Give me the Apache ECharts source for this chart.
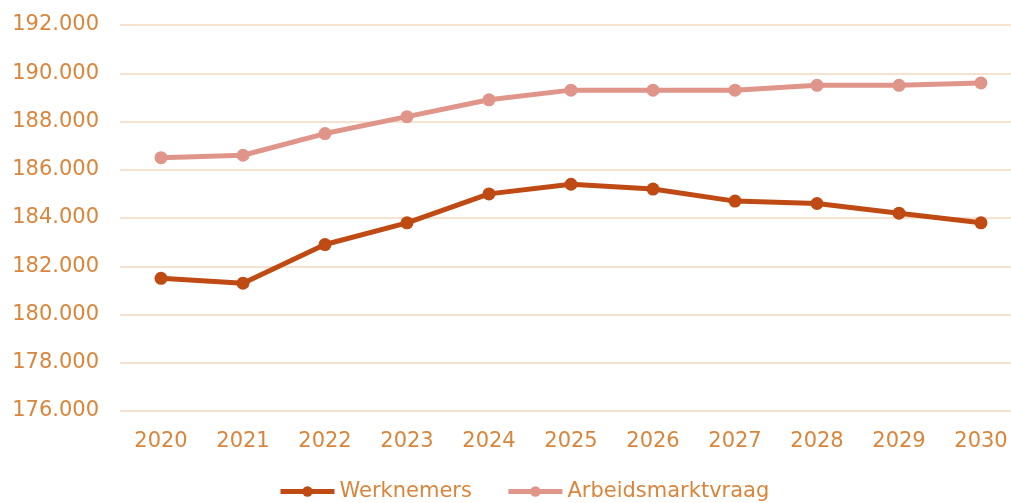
<!DOCTYPE html>
<html>
<head>
<meta charset="utf-8">
<script src="https://cdn.jsdelivr.net/npm/echarts@6/dist/echarts.min.js"></script>
<style>
	html, body { margin: 0; padding: 0; background: #fff; overflow: hidden; }
	#chart { width: 1022px; height: 503px; }
</style>
</head>
<body>
<div id="chart"></div>
<script>
var years = ['2020', '2021', '2022', '2023', '2024', '2025', '2026', '2027', '2028', '2029', '2030'];
var werknemers = [181500, 181300, 182900, 183800, 185000, 185400, 185200, 184700, 184600, 184200, 183800];
var vraag = [186500, 186600, 187500, 188200, 188900, 189300, 189300, 189300, 189500, 189500, 189600];

var textColor = '#D9853B';
var fontFam = 'DejaVu Sans, Verdana, sans-serif';

function fmt(v) {
	// 192000 -> 192.000
	return String(v).replace(/\B(?=(\d{3})+(?!\d))/g, '.');
}

var myChart = echarts.init(document.getElementById('chart'));
var option = {
	backgroundColor: '#fff',
	animation: false,
	grid: {
		left: 120,
		top: 25,
		right: 0,
		height: 386
	},
	legend: {
		left: 273,
		top: 476,
		itemWidth: 54,
		itemHeight: 13,
		itemGap: 34,
		lineStyle: { width: 5 },
		textStyle: { color: textColor, fontSize: 21, fontFamily: fontFam },
		data: ['Werknemers', 'Arbeidsmarktvraag']
	},
	xAxis: {
		type: 'category',
		data: years,
		boundaryGap: true,
		axisLine: { show: false },
		axisTick: { show: false },
		axisLabel: { color: textColor, fontSize: 21, fontFamily: fontFam, margin: 20 }
	},
	yAxis: {
		type: 'value',
		min: 176000,
		max: 192000,
		interval: 2000,
		axisLine: { show: false },
		axisTick: { show: false },
		axisLabel: { color: textColor, fontSize: 21, fontFamily: fontFam, margin: 21, formatter: fmt },
		splitLine: { lineStyle: { color: '#F5E3D0', width: 2 } }
	},
	series: [
		{
			name: 'Werknemers',
			type: 'line',
			data: werknemers,
			symbol: 'circle',
			symbolSize: 13,
			color: '#BF4A14',
			lineStyle: { width: 5, color: '#BF4A14' },
			itemStyle: { color: '#BF4A14' }
		},
		{
			name: 'Arbeidsmarktvraag',
			type: 'line',
			data: vraag,
			symbol: 'circle',
			symbolSize: 13,
			color: '#E0958A',
			lineStyle: { width: 5, color: '#E0958A' },
			itemStyle: { color: '#E0958A' }
		}
	]
};
myChart.setOption(option);
window.addEventListener('resize', function() {
	myChart.resize();
});
</script>
</body>
</html>
